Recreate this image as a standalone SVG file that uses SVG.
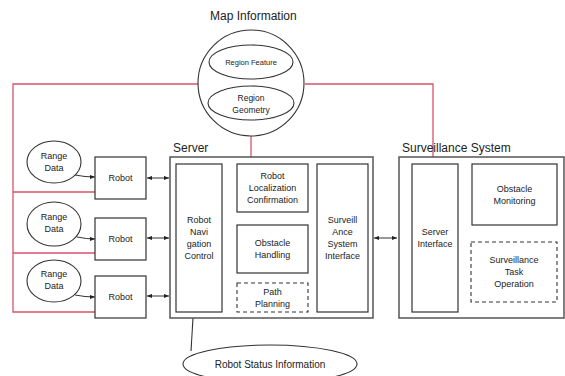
<svg xmlns="http://www.w3.org/2000/svg" width="565" height="376" viewBox="0 0 565 376">
<defs>
<marker id="ah" viewBox="0 0 6 6" refX="6" refY="3" markerWidth="5" markerHeight="5" orient="auto-start-reverse">
<path d="M0,0.5 L6,3 L0,5.5 z" fill="#222"/>
</marker>
<style>
text{font-family:"Liberation Sans",Arial,sans-serif;fill:#222;text-anchor:middle}
.t{font-size:9px}
.h{font-size:12px;text-anchor:start}
.b{fill:#fff;stroke:#333;stroke-width:1.2}
.o{fill:#fff;stroke:#555;stroke-width:1.5}
.d{fill:#fff;stroke:#333;stroke-width:1.1;stroke-dasharray:4 3}
.e{fill:#fff;stroke:#333;stroke-width:1.1}
.c{fill:none;stroke:#333;stroke-width:1.1}
.r{fill:none;stroke:#d9536a;stroke-width:1.3}
.a{fill:none;stroke:#333;stroke-width:1;marker-end:url(#ah)}
.ab{fill:none;stroke:#333;stroke-width:1;marker-end:url(#ah);marker-start:url(#ah)}
</style>
</defs>
<rect width="565" height="376" fill="#fff"/>

<g id="connectors">
<polyline class="r" points="95,192 13,192"/>
<polyline class="r" points="95,253 13,253"/>
<polyline class="r" points="199,84 13,84 13,312 95,312"/>
<polyline class="r" points="305,84 433,84 433,158"/>
<line class="r" x1="251" y1="135" x2="251" y2="157"/>
<path class="a" d="M75,175 Q85,177 95,177"/>
<path class="a" d="M77,237 Q87,239 95,239"/>
<path class="a" d="M75,295 Q85,297 95,297"/>
<line class="ab" x1="147" y1="178" x2="169" y2="178"/>
<line class="ab" x1="147" y1="238" x2="169" y2="238"/>
<line class="ab" x1="147" y1="296" x2="169" y2="296"/>
<line class="ab" x1="374" y1="238" x2="397" y2="238"/>
<line class="c" x1="222" y1="182" x2="237" y2="182"/>
<line class="c" x1="222" y1="247" x2="237" y2="247"/>
<line class="c" x1="222" y1="297" x2="237" y2="297"/>
<line class="c" x1="308" y1="182" x2="317" y2="182"/>
<line class="c" x1="308" y1="247" x2="317" y2="247"/>
<line class="c" x1="457" y1="181" x2="472" y2="181"/>
<line class="c" x1="193" y1="318" x2="191" y2="351"/>
</g>

<g id="map-information">
<text class="h" x="210" y="20">Map Information</text>
<circle class="e" cx="251" cy="83" r="53"/>
</g>
<g id="region-feature">
<ellipse class="e" cx="251" cy="62" rx="42" ry="17"/>
<text x="251" y="65" style="font-size:7.5px">Region Feature</text>
</g>
<g id="region-geometry">
<ellipse class="e" cx="251" cy="103" rx="43" ry="17"/>
<text x="251" y="101" style="font-size:8.5px">Region</text>
<text x="251" y="113" style="font-size:8.5px">Geometry</text>
</g>

<g id="range-data-1">
<ellipse class="e" cx="54" cy="162" rx="27" ry="21"/>
<text class="t" x="54" y="159">Range</text>
<text class="t" x="54" y="171">Data</text>
</g>
<g id="range-data-2">
<ellipse class="e" cx="54" cy="224" rx="27" ry="22"/>
<text class="t" x="54" y="220">Range</text>
<text class="t" x="54" y="232">Data</text>
</g>
<g id="range-data-3">
<ellipse class="e" cx="54" cy="281" rx="27" ry="21"/>
<text class="t" x="54" y="277">Range</text>
<text class="t" x="54" y="289">Data</text>
</g>

<g id="robot-1">
<rect class="b" x="95" y="157" width="51" height="42"/>
<text class="t" x="120.5" y="181">Robot</text>
</g>
<g id="robot-2">
<rect class="b" x="95" y="218" width="51" height="42"/>
<text class="t" x="120.5" y="242">Robot</text>
</g>
<g id="robot-3">
<rect class="b" x="95" y="276" width="51" height="42"/>
<text class="t" x="120.5" y="300">Robot</text>
</g>

<g id="server">
<text class="h" x="173" y="152">Server</text>
<rect class="o" x="170" y="157" width="203" height="161"/>
</g>
<g id="robot-navigation-control">
<rect class="b" x="176" y="164" width="46" height="148"/>
<text class="t" x="199" y="223">Robot</text>
<text class="t" x="199" y="235">Navi</text>
<text class="t" x="199" y="247">gation</text>
<text class="t" x="199" y="259">Control</text>
</g>
<g id="robot-localization-confirmation">
<rect class="b" x="237" y="164" width="71" height="48"/>
<text class="t" x="272.5" y="179">Robot</text>
<text class="t" x="272.5" y="191">Localization</text>
<text class="t" x="272.5" y="203">Confirmation</text>
</g>
<g id="obstacle-handling">
<rect class="b" x="237" y="225" width="71" height="48"/>
<text class="t" x="272.5" y="246">Obstacle</text>
<text class="t" x="272.5" y="258">Handling</text>
</g>
<g id="path-planning">
<rect class="d" x="237" y="283" width="71" height="29"/>
<text class="t" x="272.5" y="295">Path</text>
<text class="t" x="272.5" y="307">Planning</text>
</g>
<g id="surveillance-system-interface">
<rect class="b" x="317" y="164" width="51" height="148"/>
<text class="t" x="342.5" y="223">Surveill</text>
<text class="t" x="342.5" y="235">Ance</text>
<text class="t" x="342.5" y="247">System</text>
<text class="t" x="342.5" y="259">Interface</text>
</g>

<g id="surveillance-system">
<text class="h" x="402" y="152">Surveillance System</text>
<rect class="o" x="399" y="157" width="165" height="161"/>
</g>
<g id="server-interface">
<rect class="b" x="412" y="164" width="46" height="148"/>
<text class="t" x="435" y="235">Server</text>
<text class="t" x="435" y="247">Interface</text>
</g>
<g id="obstacle-monitoring">
<rect class="b" x="472" y="164" width="85" height="61"/>
<text class="t" x="514.5" y="192">Obstacle</text>
<text class="t" x="514.5" y="204">Monitoring</text>
</g>
<g id="surveillance-task-operation">
<rect class="d" x="471" y="242" width="86" height="60"/>
<text class="t" x="514" y="263">Surveillance</text>
<text class="t" x="514" y="275">Task</text>
<text class="t" x="514" y="287">Operation</text>
</g>

<g id="robot-status-information">
<ellipse class="e" cx="270" cy="364" rx="87" ry="19"/>
<text x="270" y="368" style="font-size:10px">Robot Status Information</text>
</g>
</svg>
